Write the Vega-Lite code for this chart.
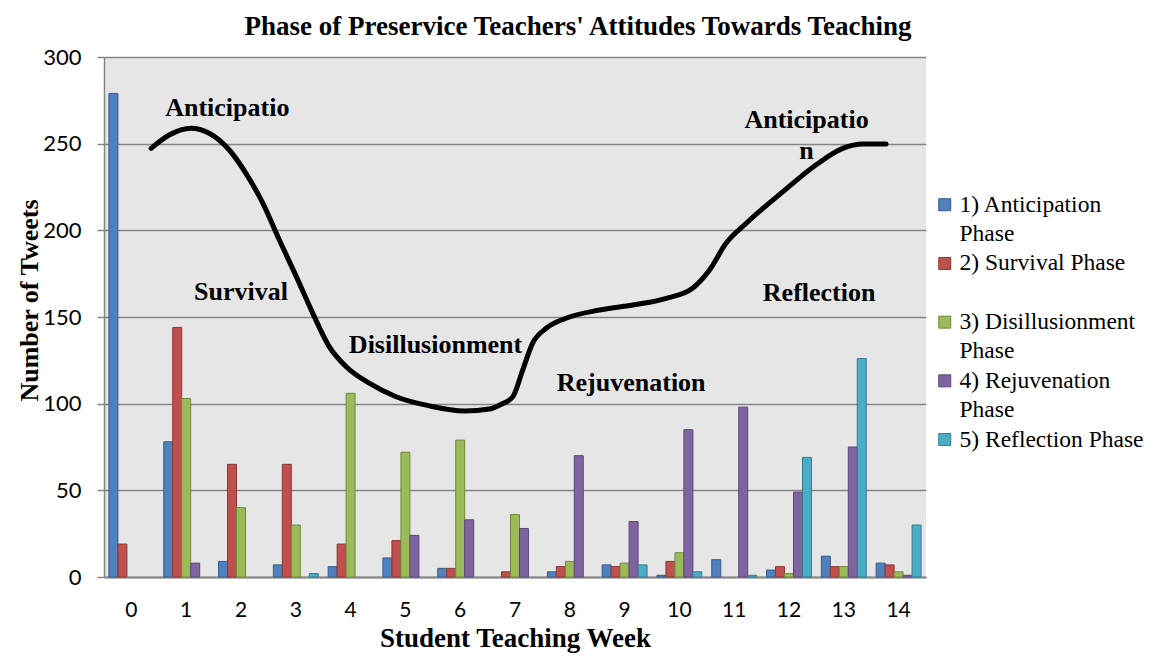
{
  "$schema": "https://vega.github.io/schema/vega-lite/v6.json",
  "width": 822,
  "height": 520,
  "autosize": {"type": "none"},
  "padding": {"left": 104, "top": 57, "right": 227, "bottom": 81},
  "background": "white",
  "title": {
    "text": "Phase of Preservice Teachers' Attitudes Towards Teaching",
    "font": "Liberation Serif",
    "fontSize": 27,
    "fontWeight": "bold",
    "color": "black",
    "anchor": "middle",
    "dx": 63,
    "offset": 5
  },
  "config": {
    "view": {"fill": "#e6e6e6", "stroke": null},
    "style": {"guide-label": {"lineHeight": 29}}
  },
  "resolve": {"scale": {"x": "independent"}},
  "layer": [
    {
      "data": {
        "values": [
          {"week": 0, "series": "1) Anticipation Phase", "count": 279},
          {"week": 0, "series": "2) Survival Phase", "count": 19},
          {"week": 1, "series": "1) Anticipation Phase", "count": 78},
          {"week": 1, "series": "2) Survival Phase", "count": 144},
          {"week": 1, "series": "3) Disillusionment Phase", "count": 103},
          {"week": 1, "series": "4) Rejuvenation Phase", "count": 8},
          {"week": 2, "series": "1) Anticipation Phase", "count": 9},
          {"week": 2, "series": "2) Survival Phase", "count": 65},
          {"week": 2, "series": "3) Disillusionment Phase", "count": 40},
          {"week": 3, "series": "1) Anticipation Phase", "count": 7},
          {"week": 3, "series": "2) Survival Phase", "count": 65},
          {"week": 3, "series": "3) Disillusionment Phase", "count": 30},
          {"week": 3, "series": "5) Reflection Phase", "count": 2},
          {"week": 4, "series": "1) Anticipation Phase", "count": 6},
          {"week": 4, "series": "2) Survival Phase", "count": 19},
          {"week": 4, "series": "3) Disillusionment Phase", "count": 106},
          {"week": 5, "series": "1) Anticipation Phase", "count": 11},
          {"week": 5, "series": "2) Survival Phase", "count": 21},
          {"week": 5, "series": "3) Disillusionment Phase", "count": 72},
          {"week": 5, "series": "4) Rejuvenation Phase", "count": 24},
          {"week": 6, "series": "1) Anticipation Phase", "count": 5},
          {"week": 6, "series": "2) Survival Phase", "count": 5},
          {"week": 6, "series": "3) Disillusionment Phase", "count": 79},
          {"week": 6, "series": "4) Rejuvenation Phase", "count": 33},
          {"week": 7, "series": "2) Survival Phase", "count": 3},
          {"week": 7, "series": "3) Disillusionment Phase", "count": 36},
          {"week": 7, "series": "4) Rejuvenation Phase", "count": 28},
          {"week": 8, "series": "1) Anticipation Phase", "count": 3},
          {"week": 8, "series": "2) Survival Phase", "count": 6},
          {"week": 8, "series": "3) Disillusionment Phase", "count": 9},
          {"week": 8, "series": "4) Rejuvenation Phase", "count": 70},
          {"week": 9, "series": "1) Anticipation Phase", "count": 7},
          {"week": 9, "series": "2) Survival Phase", "count": 6},
          {"week": 9, "series": "3) Disillusionment Phase", "count": 8},
          {"week": 9, "series": "4) Rejuvenation Phase", "count": 32},
          {"week": 9, "series": "5) Reflection Phase", "count": 7},
          {"week": 10, "series": "1) Anticipation Phase", "count": 1},
          {"week": 10, "series": "2) Survival Phase", "count": 9},
          {"week": 10, "series": "3) Disillusionment Phase", "count": 14},
          {"week": 10, "series": "4) Rejuvenation Phase", "count": 85},
          {"week": 10, "series": "5) Reflection Phase", "count": 3},
          {"week": 11, "series": "1) Anticipation Phase", "count": 10},
          {"week": 11, "series": "4) Rejuvenation Phase", "count": 98},
          {"week": 11, "series": "5) Reflection Phase", "count": 1},
          {"week": 12, "series": "1) Anticipation Phase", "count": 4},
          {"week": 12, "series": "2) Survival Phase", "count": 6},
          {"week": 12, "series": "3) Disillusionment Phase", "count": 2},
          {"week": 12, "series": "4) Rejuvenation Phase", "count": 49},
          {"week": 12, "series": "5) Reflection Phase", "count": 69},
          {"week": 13, "series": "1) Anticipation Phase", "count": 12},
          {"week": 13, "series": "2) Survival Phase", "count": 6},
          {"week": 13, "series": "3) Disillusionment Phase", "count": 6},
          {"week": 13, "series": "4) Rejuvenation Phase", "count": 75},
          {"week": 13, "series": "5) Reflection Phase", "count": 126},
          {"week": 14, "series": "1) Anticipation Phase", "count": 8},
          {"week": 14, "series": "2) Survival Phase", "count": 7},
          {"week": 14, "series": "3) Disillusionment Phase", "count": 3},
          {"week": 14, "series": "4) Rejuvenation Phase", "count": 1},
          {"week": 14, "series": "5) Reflection Phase", "count": 30}
        ]
      },
      "mark": {"type": "bar", "strokeWidth": 1},
      "encoding": {
        "x": {
          "field": "week",
          "type": "ordinal",
          "scale": {"domain": [0, 1, 2, 3, 4, 5, 6, 7, 8, 9, 10, 11, 12, 13, 14], "paddingInner": 0.18, "paddingOuter": 0.09},
          "axis": {
            "title": "Student Teaching Week",
            "titleFont": "Liberation Serif",
            "titleFontSize": 27,
            "titleFontWeight": "bold",
            "titleColor": "black",
            "titlePadding": 5,
            "labelAngle": 0,
            "labelFont": "Lato",
            "labelFontSize": 21,
            "labelColor": "black",
            "labelPadding": 22,
            "ticks": false,
            "domainColor": "#868686",
            "domainWidth": 2,
            "grid": false
          }
        },
        "xOffset": {
          "field": "series",
          "type": "nominal",
          "scale": {
            "domain": ["1) Anticipation Phase", "2) Survival Phase", "3) Disillusionment Phase", "4) Rejuvenation Phase", "5) Reflection Phase"],
            "paddingInner": 0,
            "paddingOuter": 0
          }
        },
        "y": {
          "field": "count",
          "type": "quantitative",
          "scale": {"domain": [0, 300]},
          "axis": {
            "title": "Number of Tweets",
            "titleFont": "Liberation Serif",
            "titleFontSize": 26,
            "titleFontWeight": "bold",
            "titleColor": "black",
            "titleX": -75,
            "titleY": 243,
            "titleAlign": "center",
            "titleBaseline": "middle",
            "values": [0, 50, 100, 150, 200, 250, 300],
            "labelFont": "Lato",
            "labelFontSize": 22,
            "labelColor": "black",
            "labelPadding": 16,
            "tickSize": 7,
            "tickColor": "#868686",
            "tickWidth": 1.5,
            "domainColor": "#868686",
            "domainWidth": 1.5,
            "grid": true,
            "gridColor": "#868686",
            "gridWidth": 1.5
          }
        },
        "fill": {
          "field": "series",
          "type": "nominal",
          "scale": {
            "domain": ["1) Anticipation Phase", "2) Survival Phase", "3) Disillusionment Phase", "4) Rejuvenation Phase", "5) Reflection Phase"],
            "range": ["#4f81bd", "#c0504d", "#9bbb59", "#8064a2", "#4bacc6"]
          },
          "legend": {
            "title": null,
            "orient": "none",
            "legendX": 829,
            "legendY": 136,
            "symbolType": "square",
            "symbolSize": 144,
            "symbolStrokeWidth": 1,
            "labelFont": "Liberation Serif",
            "labelFontSize": 23.5,
            "labelColor": "black",
            "labelLimit": 400,
            "labelOffset": 3,
            "rowPadding": 4.7,
            "labelExpr": "datum.label == '2) Survival Phase' ? [datum.label, ' '] : datum.label == '5) Reflection Phase' ? datum.label : [replace(datum.label, ' Phase', ''), 'Phase']"
          }
        },
        "stroke": {
          "field": "series",
          "type": "nominal",
          "scale": {
            "domain": ["1) Anticipation Phase", "2) Survival Phase", "3) Disillusionment Phase", "4) Rejuvenation Phase", "5) Reflection Phase"],
            "range": ["#385d8a", "#8c3836", "#71893f", "#5c4776", "#357d91"]
          }
        }
      }
    },
    {
      "data": {
        "values": [
          {"wk": 0.36, "count": 247.3},
          {"wk": 0.69, "count": 255.0},
          {"wk": 1.09, "count": 258.9},
          {"wk": 1.42, "count": 256.0},
          {"wk": 1.79, "count": 246.2},
          {"wk": 2.09, "count": 232.9},
          {"wk": 2.40, "count": 215.6},
          {"wk": 2.70, "count": 194.4},
          {"wk": 3.01, "count": 173.3},
          {"wk": 3.31, "count": 152.1},
          {"wk": 3.61, "count": 132.9},
          {"wk": 3.92, "count": 121.3},
          {"wk": 4.34, "count": 111.8},
          {"wk": 4.83, "count": 104.0},
          {"wk": 5.44, "count": 98.7},
          {"wk": 6.08, "count": 95.8},
          {"wk": 6.53, "count": 96.9},
          {"wk": 6.72, "count": 99.2},
          {"wk": 6.96, "count": 104.0},
          {"wk": 7.14, "count": 119.4},
          {"wk": 7.32, "count": 134.8},
          {"wk": 7.57, "count": 143.5},
          {"wk": 7.93, "count": 149.3},
          {"wk": 8.54, "count": 154.0},
          {"wk": 9.15, "count": 156.9},
          {"wk": 9.76, "count": 160.8},
          {"wk": 10.24, "count": 166.6},
          {"wk": 10.55, "count": 177.1},
          {"wk": 10.85, "count": 192.5},
          {"wk": 11.22, "count": 204.1},
          {"wk": 11.89, "count": 222.3},
          {"wk": 12.49, "count": 237.7},
          {"wk": 12.98, "count": 247.3},
          {"wk": 13.35, "count": 249.8},
          {"wk": 13.77, "count": 249.8}
        ]
      },
      "mark": {"type": "line", "color": "black", "strokeWidth": 5, "interpolate": "monotone", "strokeCap": "round"},
      "encoding": {
        "x": {"field": "wk", "type": "quantitative", "scale": {"domain": [-0.5, 14.5]}, "axis": null},
        "y": {"field": "count", "type": "quantitative"}
      }
    },
    {
      "data": {
        "values": [
          {"wk": 1.75, "count": 270.6, "label": "Anticipatio"},
          {"wk": 2.0, "count": 164.4, "label": "Survival"},
          {"wk": 5.55, "count": 133.9, "label": "Disillusionment"},
          {"wk": 9.12, "count": 111.9, "label": "Rejuvenation"},
          {"wk": 12.55, "count": 163.9, "label": "Reflection"},
          {"wk": 12.32, "count": 263.7, "label": "Anticipatio"},
          {"wk": 12.32, "count": 245.8, "label": "n"}
        ]
      },
      "mark": {"type": "text", "font": "Liberation Serif", "fontSize": 26, "fontWeight": "bold", "color": "black", "baseline": "middle", "align": "center"},
      "encoding": {
        "x": {"field": "wk", "type": "quantitative", "scale": {"domain": [-0.5, 14.5]}, "axis": null},
        "y": {"field": "count", "type": "quantitative"},
        "text": {"field": "label", "type": "nominal"}
      }
    }
  ]
}
